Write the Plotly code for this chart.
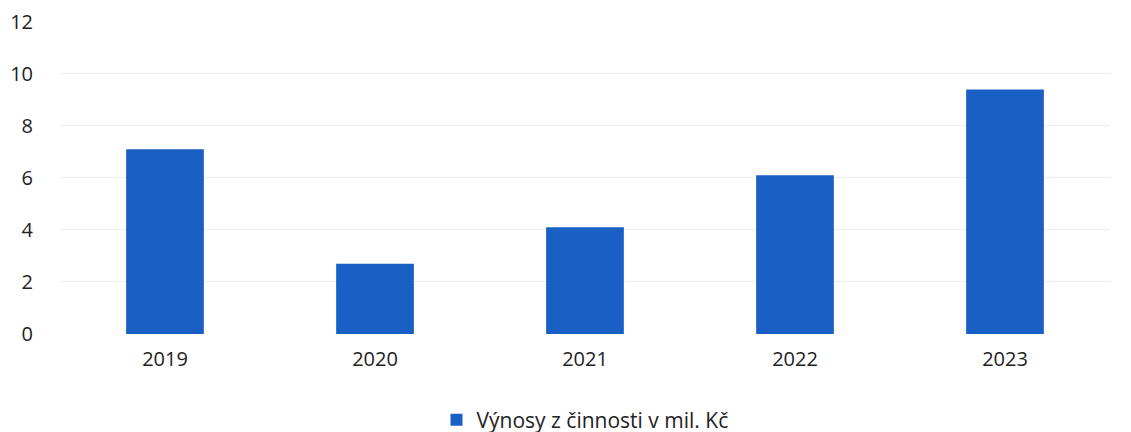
import plotly.graph_objects as go

years = ["2019", "2020", "2021", "2022", "2023"]
revenue = [7.1, 2.7, 4.1, 6.1, 9.4]
series_name = "Výnosy z činnosti v mil. Kč"
y_ticks = [0, 2, 4, 6, 8, 10, 12]

fig = go.Figure()
fig.add_trace(go.Bar(
    x=years, y=revenue, name=series_name,
    marker_color="#1a5fc4", marker_line_width=0,
    showlegend=True,
))

fig.update_layout(
    width=1131, height=432,
    margin=dict(l=52, r=29, t=13, b=106, autoexpand=False),
    paper_bgcolor="white", plot_bgcolor="white",
    font=dict(family="Open Sans, sans-serif", size=20, color="#222"),
    bargap=0.63,
    legend=dict(orientation="h", x=0.5, xanchor="center", yref="container",
                y=0.046, yanchor="middle", font=dict(size=21), itemwidth=30),
)
fig.update_xaxes(showgrid=False, showline=False, ticks="", ticklabelstandoff=11,
                 tickfont=dict(size=20))
# range a touch above 12 so the top gridline is drawn
fig.update_yaxes(range=[0, 12.03], tickvals=y_ticks, showgrid=True, gridcolor="#ededed",
                 gridwidth=1, zeroline=False, ticks="", ticklabelstandoff=26,
                 ticklabeloverflow="allow", tickfont=dict(size=20))

fig.write_html("out.html")
